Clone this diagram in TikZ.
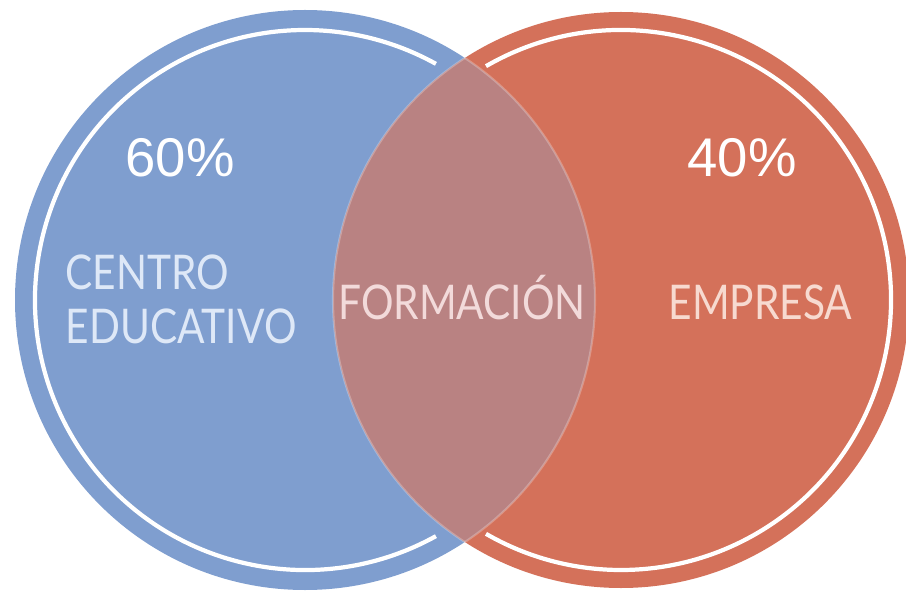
\documentclass[tikz,border=0pt]{standalone}
\usepackage{fontspec}
\setmainfont{Liberation Sans}
\newfontfamily\labelfont{Lato}
\definecolor{vblue}{RGB}{127,158,207}
\definecolor{vorange}{RGB}{212,113,90}
\definecolor{vlens}{RGB}{185,130,130}
\definecolor{tblue}{RGB}{222,232,247}
\definecolor{tlens}{RGB}{242,218,218}
\definecolor{torange}{RGB}{247,218,208}
\newcommand{\narrow}[1]{\scalebox{0.85}[1]{#1}}
\tikzset{
  ring/.style={draw=white,line width=1.2pt},
  pct/.style={text=white,font=\fontsize{15.5}{18}\selectfont,anchor=base,inner sep=0pt},
  lbl/.style={font=\labelfont\fontsize{13.6}{16}\selectfont,inner sep=0pt}
}
\begin{document}
\begin{tikzpicture}[x=0.01cm,y=-0.01cm]
\useasboundingbox (0,0) rectangle (906,591);
\coordinate (L) at (305,300);
\coordinate (R) at (621,300);
\fill[vblue] (L) circle[radius=290];
\fill[vorange] (R) circle[radius=288];
\begin{scope}
  \clip (L) circle[radius=290];
  \fill[vlens] (R) circle[radius=288];
  \draw[white,opacity=0.25,line width=0.6pt] (R) circle[radius=288];
\end{scope}
\begin{scope}
  \clip (R) circle[radius=288];
  \draw[white,opacity=0.25,line width=0.6pt] (L) circle[radius=290];
\end{scope}
\draw[ring] ([shift={(61:270)}]L) arc[start angle=61,end angle=299,radius=270];
\draw[ring] ([shift={(-120:270)}]R) arc[start angle=-120,end angle=120,radius=270];
\node[pct] (p60) at (180,177) {60\%};
\node[pct] (p40) at (742,177) {40\%};
\node[lbl,text=tblue,anchor=base west] (centro) at (65,290) {\narrow{CENTRO}};
\node[lbl,text=tblue,anchor=base west] (educ) at (65,343) {\narrow{EDUCATIVO}};
\node[lbl,text=tlens,anchor=base] (form) at (462,320) {\narrow{FORMACIÓN}};
\node[lbl,text=torange,anchor=base west] (emp) at (668,320) {\narrow{EMPRESA}};
\end{tikzpicture}
\end{document}
